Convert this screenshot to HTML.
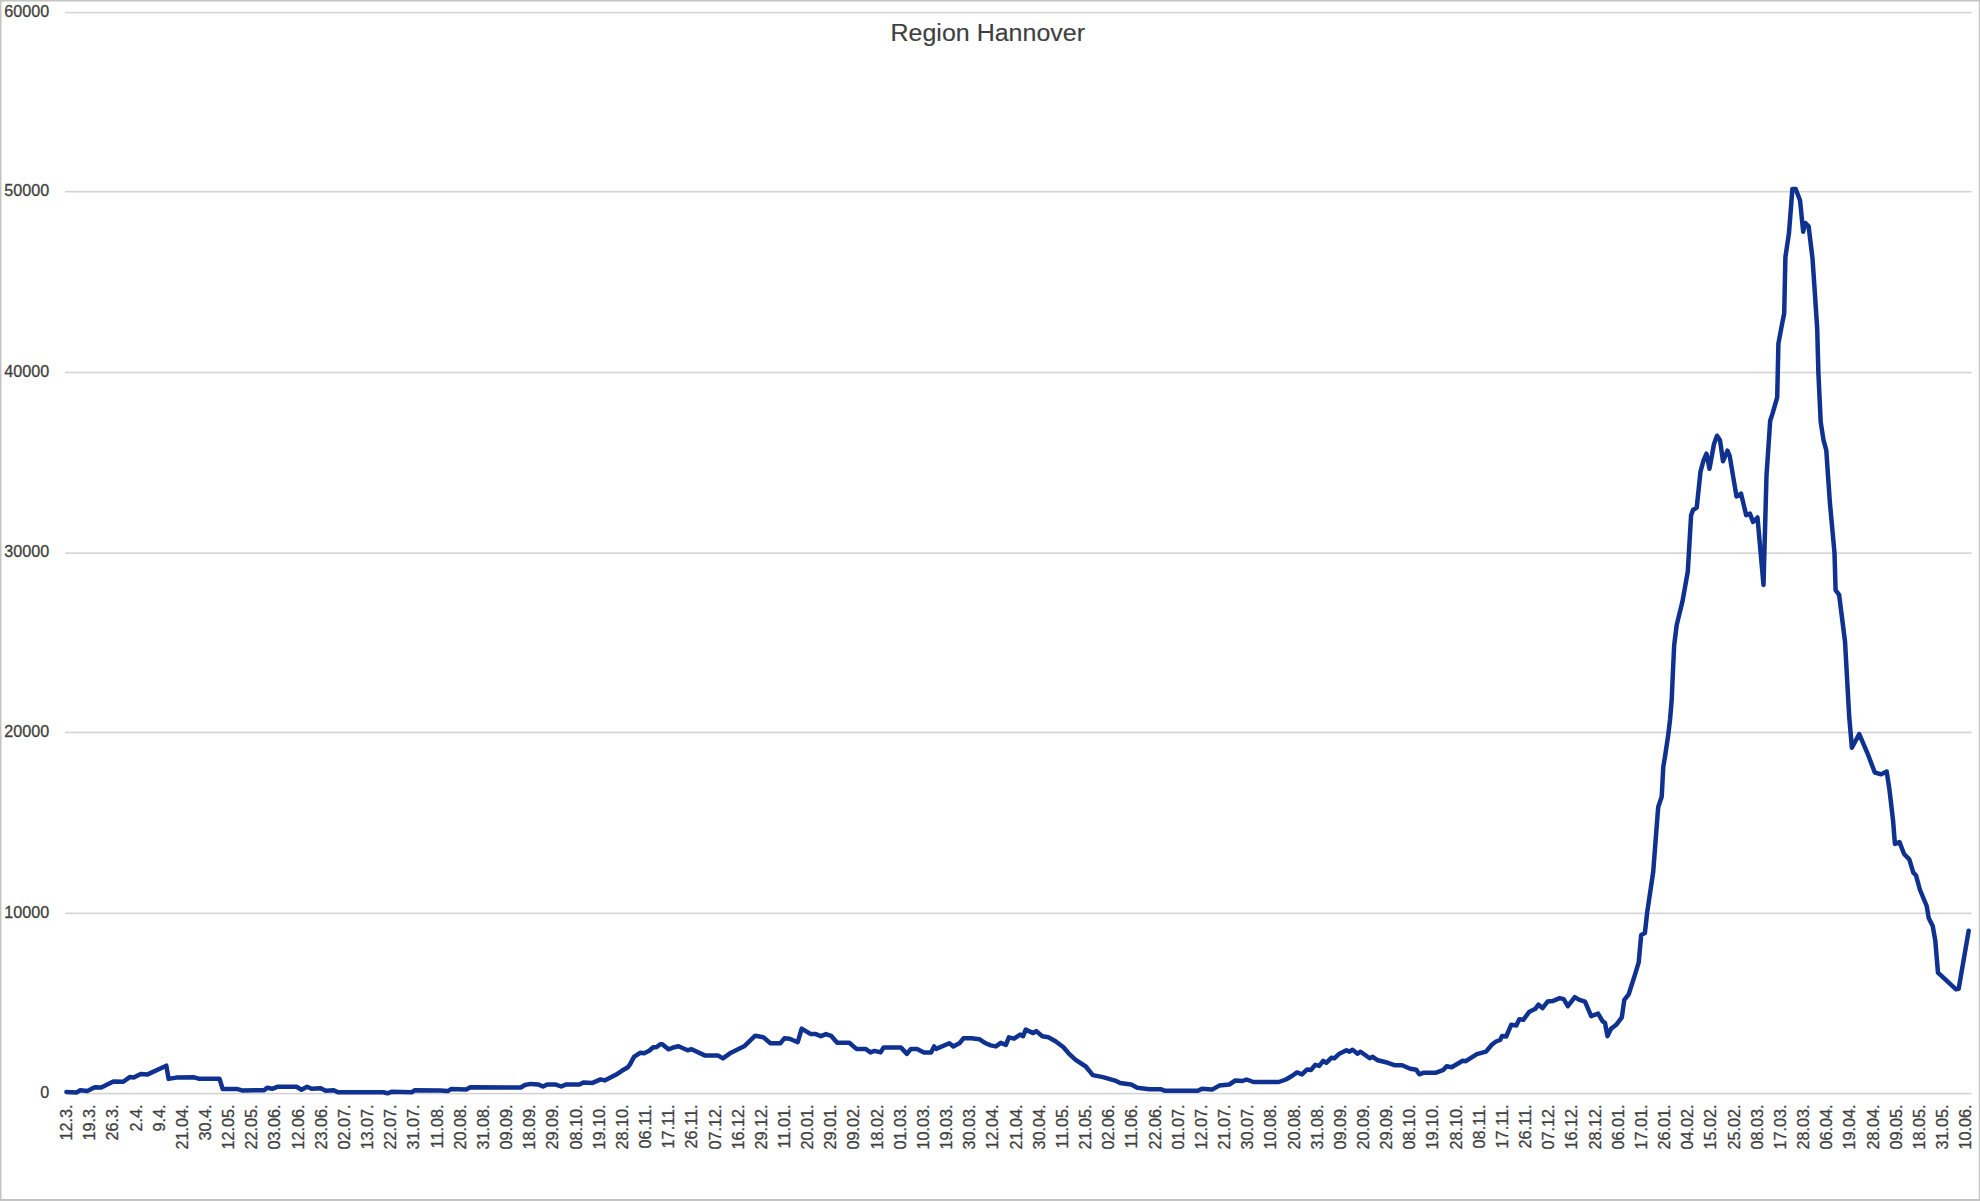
<!DOCTYPE html><html><head><meta charset="utf-8"><style>html,body{margin:0;padding:0;background:#fff;width:1980px;height:1201px;overflow:hidden}svg{display:block}text{font-family:"Liberation Sans",sans-serif;stroke:#404040;stroke-width:0.3px}</style></head><body>
<svg width="1980" height="1201" viewBox="0 0 1980 1201">
<rect x="0" y="0" width="1980" height="1201" fill="#fff"/>
<rect x="65.0" y="1092.80" width="1906.5" height="1.6" fill="#d3d3d3"/>
<rect x="65.0" y="912.53" width="1906.5" height="1.6" fill="#d3d3d3"/>
<rect x="65.0" y="731.62" width="1906.5" height="1.6" fill="#d3d3d3"/>
<rect x="65.0" y="552.37" width="1906.5" height="1.6" fill="#d3d3d3"/>
<rect x="65.0" y="371.70" width="1906.5" height="1.6" fill="#d3d3d3"/>
<rect x="65.0" y="190.87" width="1906.5" height="1.6" fill="#d3d3d3"/>
<rect x="65.0" y="11.80" width="1906.5" height="1.6" fill="#d3d3d3"/>
<text x="49.2" y="1097.80" text-anchor="end" font-size="17" fill="#404040" transform="translate(49.2 1097.80) scale(0.95 1) translate(-49.2 -1097.80)">0</text>
<text x="49.2" y="917.53" text-anchor="end" font-size="17" fill="#404040" transform="translate(49.2 917.53) scale(0.95 1) translate(-49.2 -917.53)">10000</text>
<text x="49.2" y="736.62" text-anchor="end" font-size="17" fill="#404040" transform="translate(49.2 736.62) scale(0.95 1) translate(-49.2 -736.62)">20000</text>
<text x="49.2" y="557.37" text-anchor="end" font-size="17" fill="#404040" transform="translate(49.2 557.37) scale(0.95 1) translate(-49.2 -557.37)">30000</text>
<text x="49.2" y="376.70" text-anchor="end" font-size="17" fill="#404040" transform="translate(49.2 376.70) scale(0.95 1) translate(-49.2 -376.70)">40000</text>
<text x="49.2" y="195.87" text-anchor="end" font-size="17" fill="#404040" transform="translate(49.2 195.87) scale(0.95 1) translate(-49.2 -195.87)">50000</text>
<text x="49.2" y="16.80" text-anchor="end" font-size="17" fill="#404040" transform="translate(49.2 16.80) scale(0.95 1) translate(-49.2 -16.80)">60000</text>
<text x="0" y="0" text-anchor="end" font-size="17" fill="#404040" transform="translate(72.05 1104.5) rotate(-90) scale(0.955 1)">12.3.</text>
<text x="0" y="0" text-anchor="end" font-size="17" fill="#404040" transform="translate(95.21 1104.5) rotate(-90) scale(0.955 1)">19.3.</text>
<text x="0" y="0" text-anchor="end" font-size="17" fill="#404040" transform="translate(118.37 1104.5) rotate(-90) scale(0.955 1)">26.3.</text>
<text x="0" y="0" text-anchor="end" font-size="17" fill="#404040" transform="translate(141.53 1104.5) rotate(-90) scale(0.955 1)">2.4.</text>
<text x="0" y="0" text-anchor="end" font-size="17" fill="#404040" transform="translate(164.69 1104.5) rotate(-90) scale(0.955 1)">9.4.</text>
<text x="0" y="0" text-anchor="end" font-size="17" fill="#404040" transform="translate(187.85 1104.5) rotate(-90) scale(0.955 1)">21.04.</text>
<text x="0" y="0" text-anchor="end" font-size="17" fill="#404040" transform="translate(211.01 1104.5) rotate(-90) scale(0.955 1)">30.4.</text>
<text x="0" y="0" text-anchor="end" font-size="17" fill="#404040" transform="translate(234.17 1104.5) rotate(-90) scale(0.955 1)">12.05.</text>
<text x="0" y="0" text-anchor="end" font-size="17" fill="#404040" transform="translate(257.33 1104.5) rotate(-90) scale(0.955 1)">22.05.</text>
<text x="0" y="0" text-anchor="end" font-size="17" fill="#404040" transform="translate(280.49 1104.5) rotate(-90) scale(0.955 1)">03.06.</text>
<text x="0" y="0" text-anchor="end" font-size="17" fill="#404040" transform="translate(303.65 1104.5) rotate(-90) scale(0.955 1)">12.06.</text>
<text x="0" y="0" text-anchor="end" font-size="17" fill="#404040" transform="translate(326.81 1104.5) rotate(-90) scale(0.955 1)">23.06.</text>
<text x="0" y="0" text-anchor="end" font-size="17" fill="#404040" transform="translate(349.97 1104.5) rotate(-90) scale(0.955 1)">02.07.</text>
<text x="0" y="0" text-anchor="end" font-size="17" fill="#404040" transform="translate(373.13 1104.5) rotate(-90) scale(0.955 1)">13.07.</text>
<text x="0" y="0" text-anchor="end" font-size="17" fill="#404040" transform="translate(396.29 1104.5) rotate(-90) scale(0.955 1)">22.07.</text>
<text x="0" y="0" text-anchor="end" font-size="17" fill="#404040" transform="translate(419.45 1104.5) rotate(-90) scale(0.955 1)">31.07.</text>
<text x="0" y="0" text-anchor="end" font-size="17" fill="#404040" transform="translate(442.61 1104.5) rotate(-90) scale(0.955 1)">11.08.</text>
<text x="0" y="0" text-anchor="end" font-size="17" fill="#404040" transform="translate(465.77 1104.5) rotate(-90) scale(0.955 1)">20.08.</text>
<text x="0" y="0" text-anchor="end" font-size="17" fill="#404040" transform="translate(488.93 1104.5) rotate(-90) scale(0.955 1)">31.08.</text>
<text x="0" y="0" text-anchor="end" font-size="17" fill="#404040" transform="translate(512.09 1104.5) rotate(-90) scale(0.955 1)">09.09.</text>
<text x="0" y="0" text-anchor="end" font-size="17" fill="#404040" transform="translate(535.25 1104.5) rotate(-90) scale(0.955 1)">18.09.</text>
<text x="0" y="0" text-anchor="end" font-size="17" fill="#404040" transform="translate(558.41 1104.5) rotate(-90) scale(0.955 1)">29.09.</text>
<text x="0" y="0" text-anchor="end" font-size="17" fill="#404040" transform="translate(581.57 1104.5) rotate(-90) scale(0.955 1)">08.10.</text>
<text x="0" y="0" text-anchor="end" font-size="17" fill="#404040" transform="translate(604.73 1104.5) rotate(-90) scale(0.955 1)">19.10.</text>
<text x="0" y="0" text-anchor="end" font-size="17" fill="#404040" transform="translate(627.89 1104.5) rotate(-90) scale(0.955 1)">28.10.</text>
<text x="0" y="0" text-anchor="end" font-size="17" fill="#404040" transform="translate(651.05 1104.5) rotate(-90) scale(0.955 1)">06.11.</text>
<text x="0" y="0" text-anchor="end" font-size="17" fill="#404040" transform="translate(674.21 1104.5) rotate(-90) scale(0.955 1)">17.11.</text>
<text x="0" y="0" text-anchor="end" font-size="17" fill="#404040" transform="translate(697.37 1104.5) rotate(-90) scale(0.955 1)">26.11.</text>
<text x="0" y="0" text-anchor="end" font-size="17" fill="#404040" transform="translate(720.53 1104.5) rotate(-90) scale(0.955 1)">07.12.</text>
<text x="0" y="0" text-anchor="end" font-size="17" fill="#404040" transform="translate(743.69 1104.5) rotate(-90) scale(0.955 1)">16.12.</text>
<text x="0" y="0" text-anchor="end" font-size="17" fill="#404040" transform="translate(766.85 1104.5) rotate(-90) scale(0.955 1)">29.12.</text>
<text x="0" y="0" text-anchor="end" font-size="17" fill="#404040" transform="translate(790.01 1104.5) rotate(-90) scale(0.955 1)">11.01.</text>
<text x="0" y="0" text-anchor="end" font-size="17" fill="#404040" transform="translate(813.17 1104.5) rotate(-90) scale(0.955 1)">20.01.</text>
<text x="0" y="0" text-anchor="end" font-size="17" fill="#404040" transform="translate(836.33 1104.5) rotate(-90) scale(0.955 1)">29.01.</text>
<text x="0" y="0" text-anchor="end" font-size="17" fill="#404040" transform="translate(859.49 1104.5) rotate(-90) scale(0.955 1)">09.02.</text>
<text x="0" y="0" text-anchor="end" font-size="17" fill="#404040" transform="translate(882.65 1104.5) rotate(-90) scale(0.955 1)">18.02.</text>
<text x="0" y="0" text-anchor="end" font-size="17" fill="#404040" transform="translate(905.81 1104.5) rotate(-90) scale(0.955 1)">01.03.</text>
<text x="0" y="0" text-anchor="end" font-size="17" fill="#404040" transform="translate(928.97 1104.5) rotate(-90) scale(0.955 1)">10.03.</text>
<text x="0" y="0" text-anchor="end" font-size="17" fill="#404040" transform="translate(952.13 1104.5) rotate(-90) scale(0.955 1)">19.03.</text>
<text x="0" y="0" text-anchor="end" font-size="17" fill="#404040" transform="translate(975.29 1104.5) rotate(-90) scale(0.955 1)">30.03.</text>
<text x="0" y="0" text-anchor="end" font-size="17" fill="#404040" transform="translate(998.45 1104.5) rotate(-90) scale(0.955 1)">12.04.</text>
<text x="0" y="0" text-anchor="end" font-size="17" fill="#404040" transform="translate(1021.61 1104.5) rotate(-90) scale(0.955 1)">21.04.</text>
<text x="0" y="0" text-anchor="end" font-size="17" fill="#404040" transform="translate(1044.77 1104.5) rotate(-90) scale(0.955 1)">30.04.</text>
<text x="0" y="0" text-anchor="end" font-size="17" fill="#404040" transform="translate(1067.93 1104.5) rotate(-90) scale(0.955 1)">11.05.</text>
<text x="0" y="0" text-anchor="end" font-size="17" fill="#404040" transform="translate(1091.09 1104.5) rotate(-90) scale(0.955 1)">21.05.</text>
<text x="0" y="0" text-anchor="end" font-size="17" fill="#404040" transform="translate(1114.25 1104.5) rotate(-90) scale(0.955 1)">02.06.</text>
<text x="0" y="0" text-anchor="end" font-size="17" fill="#404040" transform="translate(1137.41 1104.5) rotate(-90) scale(0.955 1)">11.06.</text>
<text x="0" y="0" text-anchor="end" font-size="17" fill="#404040" transform="translate(1160.57 1104.5) rotate(-90) scale(0.955 1)">22.06.</text>
<text x="0" y="0" text-anchor="end" font-size="17" fill="#404040" transform="translate(1183.73 1104.5) rotate(-90) scale(0.955 1)">01.07.</text>
<text x="0" y="0" text-anchor="end" font-size="17" fill="#404040" transform="translate(1206.89 1104.5) rotate(-90) scale(0.955 1)">12.07.</text>
<text x="0" y="0" text-anchor="end" font-size="17" fill="#404040" transform="translate(1230.05 1104.5) rotate(-90) scale(0.955 1)">21.07.</text>
<text x="0" y="0" text-anchor="end" font-size="17" fill="#404040" transform="translate(1253.21 1104.5) rotate(-90) scale(0.955 1)">30.07.</text>
<text x="0" y="0" text-anchor="end" font-size="17" fill="#404040" transform="translate(1276.37 1104.5) rotate(-90) scale(0.955 1)">10.08.</text>
<text x="0" y="0" text-anchor="end" font-size="17" fill="#404040" transform="translate(1299.53 1104.5) rotate(-90) scale(0.955 1)">20.08.</text>
<text x="0" y="0" text-anchor="end" font-size="17" fill="#404040" transform="translate(1322.69 1104.5) rotate(-90) scale(0.955 1)">31.08.</text>
<text x="0" y="0" text-anchor="end" font-size="17" fill="#404040" transform="translate(1345.85 1104.5) rotate(-90) scale(0.955 1)">09.09.</text>
<text x="0" y="0" text-anchor="end" font-size="17" fill="#404040" transform="translate(1369.01 1104.5) rotate(-90) scale(0.955 1)">20.09.</text>
<text x="0" y="0" text-anchor="end" font-size="17" fill="#404040" transform="translate(1392.17 1104.5) rotate(-90) scale(0.955 1)">29.09.</text>
<text x="0" y="0" text-anchor="end" font-size="17" fill="#404040" transform="translate(1415.33 1104.5) rotate(-90) scale(0.955 1)">08.10.</text>
<text x="0" y="0" text-anchor="end" font-size="17" fill="#404040" transform="translate(1438.49 1104.5) rotate(-90) scale(0.955 1)">19.10.</text>
<text x="0" y="0" text-anchor="end" font-size="17" fill="#404040" transform="translate(1461.65 1104.5) rotate(-90) scale(0.955 1)">28.10.</text>
<text x="0" y="0" text-anchor="end" font-size="17" fill="#404040" transform="translate(1484.81 1104.5) rotate(-90) scale(0.955 1)">08.11.</text>
<text x="0" y="0" text-anchor="end" font-size="17" fill="#404040" transform="translate(1507.97 1104.5) rotate(-90) scale(0.955 1)">17.11.</text>
<text x="0" y="0" text-anchor="end" font-size="17" fill="#404040" transform="translate(1531.13 1104.5) rotate(-90) scale(0.955 1)">26.11.</text>
<text x="0" y="0" text-anchor="end" font-size="17" fill="#404040" transform="translate(1554.29 1104.5) rotate(-90) scale(0.955 1)">07.12.</text>
<text x="0" y="0" text-anchor="end" font-size="17" fill="#404040" transform="translate(1577.45 1104.5) rotate(-90) scale(0.955 1)">16.12.</text>
<text x="0" y="0" text-anchor="end" font-size="17" fill="#404040" transform="translate(1600.61 1104.5) rotate(-90) scale(0.955 1)">28.12.</text>
<text x="0" y="0" text-anchor="end" font-size="17" fill="#404040" transform="translate(1623.77 1104.5) rotate(-90) scale(0.955 1)">06.01.</text>
<text x="0" y="0" text-anchor="end" font-size="17" fill="#404040" transform="translate(1646.93 1104.5) rotate(-90) scale(0.955 1)">17.01.</text>
<text x="0" y="0" text-anchor="end" font-size="17" fill="#404040" transform="translate(1670.09 1104.5) rotate(-90) scale(0.955 1)">26.01.</text>
<text x="0" y="0" text-anchor="end" font-size="17" fill="#404040" transform="translate(1693.25 1104.5) rotate(-90) scale(0.955 1)">04.02.</text>
<text x="0" y="0" text-anchor="end" font-size="17" fill="#404040" transform="translate(1716.41 1104.5) rotate(-90) scale(0.955 1)">15.02.</text>
<text x="0" y="0" text-anchor="end" font-size="17" fill="#404040" transform="translate(1739.57 1104.5) rotate(-90) scale(0.955 1)">25.02.</text>
<text x="0" y="0" text-anchor="end" font-size="17" fill="#404040" transform="translate(1762.73 1104.5) rotate(-90) scale(0.955 1)">08.03.</text>
<text x="0" y="0" text-anchor="end" font-size="17" fill="#404040" transform="translate(1785.89 1104.5) rotate(-90) scale(0.955 1)">17.03.</text>
<text x="0" y="0" text-anchor="end" font-size="17" fill="#404040" transform="translate(1809.05 1104.5) rotate(-90) scale(0.955 1)">28.03.</text>
<text x="0" y="0" text-anchor="end" font-size="17" fill="#404040" transform="translate(1832.21 1104.5) rotate(-90) scale(0.955 1)">06.04.</text>
<text x="0" y="0" text-anchor="end" font-size="17" fill="#404040" transform="translate(1855.37 1104.5) rotate(-90) scale(0.955 1)">19.04.</text>
<text x="0" y="0" text-anchor="end" font-size="17" fill="#404040" transform="translate(1878.53 1104.5) rotate(-90) scale(0.955 1)">28.04.</text>
<text x="0" y="0" text-anchor="end" font-size="17" fill="#404040" transform="translate(1901.69 1104.5) rotate(-90) scale(0.955 1)">09.05.</text>
<text x="0" y="0" text-anchor="end" font-size="17" fill="#404040" transform="translate(1924.85 1104.5) rotate(-90) scale(0.955 1)">18.05.</text>
<text x="0" y="0" text-anchor="end" font-size="17" fill="#404040" transform="translate(1948.01 1104.5) rotate(-90) scale(0.955 1)">31.05.</text>
<text x="0" y="0" text-anchor="end" font-size="17" fill="#404040" transform="translate(1971.17 1104.5) rotate(-90) scale(0.955 1)">10.06.</text>
<text x="890.5" y="41.1" font-size="23.5" fill="#404040" transform="translate(890.5 41.1) scale(1.064 1) translate(-890.5 -41.1)" style="stroke-width:0.15px">Region Hannover</text>
<path d="M66.4 1092.0 L76.8 1092.4 L80.3 1090.2 L87.3 1090.9 L94.8 1087.2 L101.2 1087.6 L113.4 1081.4 L123.3 1081.8 L129.7 1077.1 L133.8 1077.5 L140.7 1073.9 L147.1 1074.6 L166.3 1065.7 L168.6 1078.9 L176.2 1077.6 L194.3 1077.3 L199.4 1078.8 L219.6 1078.8 L222.6 1088.9 L236.8 1088.9 L241.8 1090.4 L264.1 1090.3 L267.2 1087.8 L272.2 1088.8 L277.3 1086.8 L296.5 1086.8 L301.5 1089.8 L307.1 1086.8 L311.6 1088.8 L320.7 1088.3 L325.8 1090.8 L333.8 1090.3 L337.9 1092.3 L383.3 1092.3 L387.4 1093.3 L391.4 1091.8 L411.6 1092.3 L414.6 1090.3 L440.0 1090.5 L448.1 1091.0 L451.1 1089.0 L466.3 1089.5 L470.3 1087.3 L520.8 1087.5 L524.8 1085.0 L530.9 1083.9 L538.0 1084.4 L543.0 1086.5 L547.1 1084.4 L555.2 1084.4 L561.2 1086.5 L566.3 1084.4 L579.4 1084.4 L583.4 1082.4 L592.5 1082.9 L600.6 1079.4 L604.6 1080.4 L615.8 1074.8 L621.8 1070.8 L627.9 1067.3 L630.0 1064.4 L634.0 1056.9 L640.1 1052.8 L644.1 1053.3 L649.2 1050.8 L653.2 1047.3 L656.3 1047.3 L660.3 1044.2 L662.3 1044.2 L668.4 1049.3 L672.4 1047.8 L678.5 1046.3 L687.6 1050.3 L691.6 1049.3 L704.7 1055.4 L717.9 1055.4 L722.9 1058.4 L730.0 1053.3 L744.1 1046.3 L755.3 1035.7 L763.3 1037.2 L770.4 1043.2 L780.5 1043.2 L784.5 1038.2 L789.6 1038.7 L797.7 1042.2 L801.7 1028.6 L810.8 1034.1 L815.9 1034.1 L820.9 1036.2 L826.0 1034.1 L831.1 1035.8 L837.2 1042.8 L849.3 1042.8 L856.4 1048.9 L865.5 1048.9 L870.5 1052.4 L874.5 1050.9 L880.6 1052.4 L883.6 1047.4 L900.8 1047.4 L906.9 1053.9 L910.9 1048.9 L917.0 1048.9 L924.0 1052.4 L931.1 1052.4 L934.1 1046.4 L936.2 1048.9 L949.3 1043.3 L953.3 1046.4 L959.4 1043.3 L963.4 1038.3 L971.5 1038.3 L979.6 1039.3 L985.7 1043.3 L990.7 1045.4 L995.8 1046.4 L1000.8 1042.8 L1005.9 1044.8 L1008.9 1037.3 L1014.0 1038.7 L1020.1 1034.6 L1023.1 1036.2 L1025.7 1029.6 L1033.2 1033.1 L1036.3 1031.1 L1042.3 1036.2 L1048.4 1037.2 L1055.5 1041.2 L1063.5 1047.3 L1068.6 1053.3 L1075.7 1059.9 L1085.8 1066.5 L1092.8 1075.1 L1102.9 1077.1 L1115.1 1080.6 L1120.1 1083.1 L1131.2 1084.6 L1137.3 1087.7 L1149.4 1089.2 L1160.5 1089.2 L1164.5 1090.7 L1197.9 1090.7 L1201.9 1088.7 L1212.1 1089.6 L1219.2 1085.6 L1229.3 1084.5 L1235.4 1080.5 L1242.4 1081.0 L1246.5 1079.5 L1253.5 1082.0 L1278.8 1082.0 L1285.9 1079.5 L1291.9 1076.0 L1297.0 1072.4 L1302.0 1074.4 L1307.1 1069.4 L1311.1 1069.9 L1315.2 1064.8 L1319.2 1065.9 L1323.2 1060.8 L1326.3 1062.8 L1331.3 1057.8 L1334.3 1058.3 L1339.4 1053.7 L1346.5 1050.2 L1349.5 1051.7 L1352.5 1049.7 L1357.6 1053.7 L1360.6 1051.7 L1369.7 1058.3 L1372.7 1056.8 L1377.8 1060.3 L1387.9 1062.8 L1395.1 1065.3 L1402.1 1065.3 L1410.2 1068.8 L1416.3 1069.8 L1419.3 1074.3 L1423.3 1072.8 L1435.5 1072.8 L1443.5 1069.8 L1446.6 1066.3 L1451.6 1067.3 L1462.7 1060.7 L1465.8 1061.2 L1476.9 1054.1 L1486.0 1051.6 L1492.0 1044.5 L1496.1 1041.5 L1500.1 1040.0 L1502.1 1036.0 L1506.2 1036.5 L1511.2 1024.8 L1516.3 1025.4 L1519.3 1019.3 L1523.3 1019.8 L1529.4 1011.7 L1535.5 1008.7 L1538.5 1004.6 L1542.5 1008.2 L1547.6 1001.6 L1552.6 1001.1 L1559.7 998.1 L1563.7 999.1 L1567.8 1006.2 L1574.8 997.1 L1578.9 999.6 L1585.0 1001.7 L1591.2 1016.1 L1598.1 1013.6 L1602.5 1021.1 L1605.0 1023.0 L1607.5 1036.1 L1611.2 1028.6 L1616.2 1024.8 L1621.8 1017.4 L1624.3 999.9 L1628.7 994.3 L1634.9 974.9 L1638.7 962.4 L1641.2 935.0 L1644.9 933.1 L1647.1 913.0 L1653.2 871.9 L1657.8 812.0 L1658.3 806.7 L1661.7 796.7 L1663.3 766.7 L1665.0 756.7 L1668.0 736.7 L1670.0 720.0 L1671.7 700.0 L1673.0 670.0 L1674.2 645.0 L1676.7 625.0 L1682.4 601.8 L1687.8 571.5 L1691.1 515.2 L1693.0 510.0 L1696.7 507.7 L1700.5 471.7 L1703.5 460.5 L1706.5 453.7 L1709.5 468.7 L1714.0 444.0 L1717.0 435.7 L1720.0 440.2 L1723.0 461.2 L1727.5 450.7 L1729.7 456.0 L1736.5 496.5 L1741.0 493.5 L1746.2 515.2 L1750.0 513.7 L1753.0 522.0 L1757.5 517.5 L1763.5 584.9 L1766.5 475.5 L1770.2 420.7 L1772.5 413.6 L1777.2 397.3 L1778.4 343.6 L1781.9 324.9 L1784.2 313.2 L1785.4 257.1 L1788.9 233.7 L1792.4 189.0 L1795.7 189.0 L1800.0 200.3 L1803.2 231.7 L1805.4 223.0 L1808.6 226.3 L1812.5 258.4 L1814.9 293.5 L1817.2 328.5 L1818.4 372.9 L1820.7 422.0 L1823.5 440.0 L1826.3 450.3 L1829.8 501.6 L1834.5 552.9 L1835.6 590.2 L1839.1 594.8 L1845.0 641.4 L1849.2 716.6 L1851.9 747.8 L1859.2 734.0 L1867.5 753.3 L1874.8 772.5 L1881.2 774.3 L1886.7 771.6 L1889.5 789.9 L1893.1 821.0 L1894.9 843.9 L1899.5 842.1 L1904.1 854.0 L1909.3 859.3 L1913.3 872.7 L1916.0 875.3 L1920.0 890.0 L1926.7 906.0 L1928.7 918.0 L1932.7 926.0 L1935.3 940.7 L1938.0 972.7 L1956.0 989.3 L1958.7 988.7 L1968.7 930.7" fill="none" stroke="#0f3190" stroke-width="4.5" stroke-linejoin="round" stroke-linecap="round"/>
<rect x="0" y="0" width="1980" height="1.5" fill="#c4c4c4"/>
<rect x="0" y="0" width="1.5" height="1201" fill="#c4c4c4"/>
<rect x="1978.8" y="0" width="1.2" height="1199" fill="#c4c4c4"/>
<rect x="0" y="1199" width="1980" height="2" fill="#c4c4c4"/>
</svg></body></html>
